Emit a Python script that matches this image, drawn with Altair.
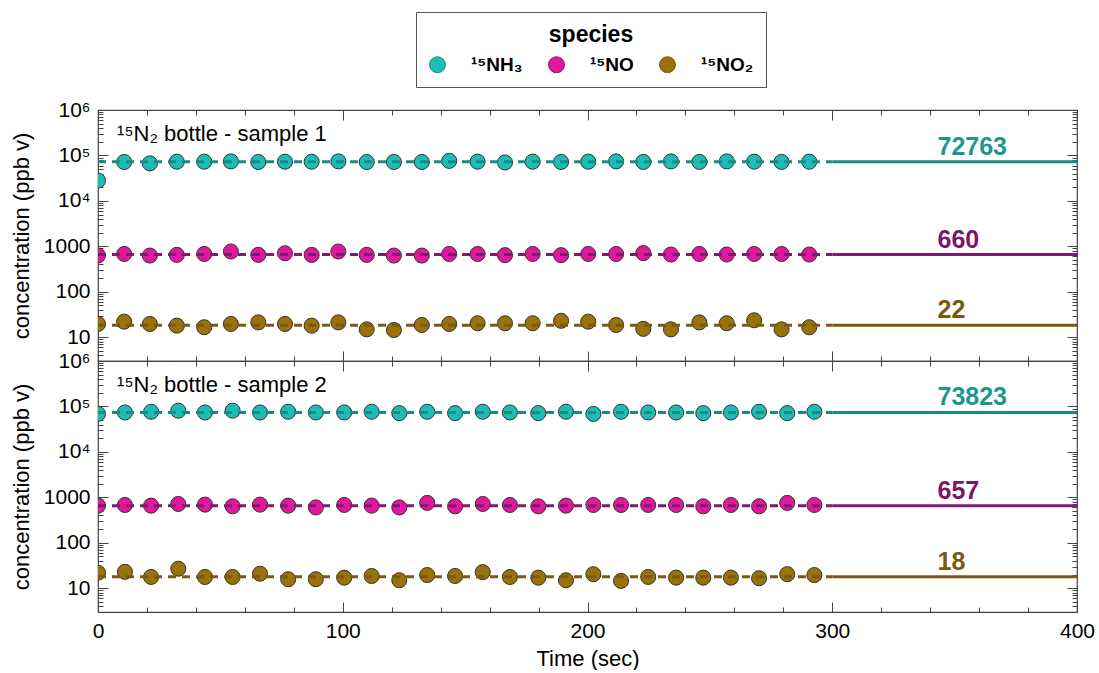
import altair as alt
import pandas as pd

FONT = "Liberation Sans"

species = ["¹⁵NH₃", "¹⁵NO", "¹⁵NO₂"]
fill_colors = ["#1dbcb4", "#e2189c", "#9a720a"]
line_colors = ["#178c86", "#7e1a70", "#7a5a12"]
label_colors = ["#1e968f", "#7a1766", "#7a5912"]

panel_names = ["¹⁵N₂ bottle - sample 1", "¹⁵N₂ bottle - sample 2"]

# sample 1
time_s1 = [0, 10.7, 21.2, 32.2, 43.4, 54.3, 65.5, 76.4, 87.3, 98.2, 109.8, 120.9, 132.3, 143.5,
           155.1, 166.3, 177.6, 189.2, 200.3, 211.7, 222.8, 234.1, 245.7, 256.9, 268.1, 279.3, 290.6]
nh3_s1 = [28000, 71700, 67000, 72800, 72800, 74000, 71700, 72800, 72800, 74000, 71700, 71700, 71700, 76000,
          73000, 70000, 73000, 72000, 73000, 74000, 72000, 74000, 72000, 74000, 73000, 72000, 73000]
no_s1 = [630, 680, 627, 650, 680, 770, 650, 705, 650, 770, 650, 627, 627, 680,
         680, 640, 680, 640, 680, 680, 710, 660, 680, 660, 680, 680, 660]
no2_s1 = [19.6, 22, 19.6, 18, 16.6, 19.6, 21.2, 19.6, 18, 21.2, 14.9, 14.4, 18.6, 19.6,
          20.3, 20.3, 20.3, 23.0, 22, 18.6, 15.3, 14.9, 21.2, 20.3, 23.6, 14.9, 16.6]

# sample 2
time_s2 = [0, 11.0, 21.7, 32.8, 43.7, 55.0, 66.2, 77.7, 89.0, 100.6, 111.8, 123.1, 134.5, 145.9,
           157.2, 168.3, 179.9, 191.2, 202.4, 213.7, 224.8, 236.2, 247.3, 258.6, 270.1, 281.6, 292.7]
nh3_s2 = [68500, 73800, 76400, 80700, 73800, 80700, 73800, 76400, 73800, 73800, 76400, 71300, 76400, 71300,
          76400, 73800, 71300, 76400, 68500, 76400, 73800, 73800, 71300, 73800, 76400, 71300, 76400]
no_s2 = [657, 680, 657, 715, 691, 635, 691, 657, 601, 680, 657, 601, 755, 635,
         715, 680, 635, 657, 680, 680, 680, 680, 635, 680, 635, 755, 680]
no2_s2 = [21.9, 23.0, 17.7, 26.9, 17.7, 17.7, 20.9, 15.8, 15.8, 17.1, 18.6, 15.0, 19.5, 18.6,
          22.6, 17.7, 17.1, 15.0, 20.4, 14.5, 17.7, 17.1, 17.1, 17.1, 16.6, 20.4, 19.5]

level_s1 = [72763, 660, 18.3]
level_s2 = [73823, 657, 18]
label_s1 = ["72763", "660", "22"]
label_s2 = ["73823", "657", "18"]

dash_span = [0, 300]
solid_span = [300, 400]
label_time = 343
panel_title_time = 7.8
panel_title_conc = 3.0e5

x_domain = [0, 400]
y_domain = [3, 1e6]
x_ticks = [0, 20, 40, 60, 80, 100, 120, 140, 160, 180, 200, 220, 240, 260, 280, 300, 320, 340, 360, 380, 400]
y_major = [10, 100, 1000, 10000, 100000, 1000000]
y_major_labels = ["10", "100", "1000", "10⁴", "10⁵", "10⁶"]
y_minor_mult = [2, 3, 4, 5, 6, 7, 8, 9]

y_ticks = sorted(set([m * 10 ** k for k in range(0, 6) for m in y_minor_mult if y_domain[0] <= m * 10 ** k <= y_domain[1]] + y_major))

y_label_expr = ""
for v, lab in zip(y_major, y_major_labels):
    y_label_expr += f"datum.value == {v} ? '{lab}' : "
y_label_expr += "''"
major_list = "[" + ",".join(str(v) for v in y_major) + "]"
y_tick_expr = {"expr": f"indexof({major_list}, datum.value) >= 0 ? -10 : -5"}
x_tick_expr = {"expr": "datum.value % 100 === 0 ? -10 : -5"}

xs = alt.Scale(domain=x_domain, nice=False, zero=False)
ys = alt.Scale(type="log", domain=y_domain, nice=False)

legend = alt.Legend(
    title="species", orient="none", legendX=318, legendY=-98, direction="horizontal", columns=3,
    titleAnchor="middle", titleFont=FONT, titleFontSize=23, titleFontWeight="bold", titleColor="black",
    titlePadding=8, labelFont=FONT, labelFontSize=19, labelFontWeight="bold", labelColor="black",
    labelOffset=24, symbolSize=254, symbolType="circle", symbolStrokeColor="#333", symbolStrokeWidth=1,
    symbolOpacity=1, strokeColor="#555", padding=12, columnPadding=23, fillColor="white",
)


def panel(times, series, levels, labels, name, bottom_labels):
    rows = []
    for sp, vals in zip(species, series):
        for t, v in zip(times, vals):
            rows.append({"time": t, "conc": v, "species": sp})
    df_pts = pd.DataFrame(rows)
    df_dash = pd.DataFrame([{"time": t, "conc": lv, "species": sp}
                            for sp, lv in zip(species, levels) for t in dash_span])
    df_solid = pd.DataFrame([{"time": t, "conc": lv, "species": sp}
                             for sp, lv in zip(species, levels) for t in solid_span])

    if bottom_labels:
        x_bottom = alt.Axis(orient="bottom", values=x_ticks, tickSize=x_tick_expr, domain=False, grid=False,
                            labelExpr="datum.value % 100 === 0 ? datum.label : ''",
                            labelPadding=18, labelFlush=False, labelOverlap=False,
                            title="Time (sec)", titlePadding=2)
    else:
        x_bottom = alt.Axis(orient="bottom", values=x_ticks, tickSize=x_tick_expr, domain=False, grid=False,
                            labels=False, title=None)
    x_top = alt.Axis(orient="top", values=x_ticks, tickSize=x_tick_expr, domain=False, grid=False,
                     labels=False, title=None)
    y_left = alt.Axis(orient="left", values=y_ticks, tickSize=y_tick_expr, domain=False, grid=False,
                      labelExpr=y_label_expr, labelPadding=18, labelFlush=False, labelOverlap=False,
                      title="concentration (ppb v)", titlePadding=10)
    y_right = alt.Axis(orient="right", values=y_ticks, tickSize=y_tick_expr, domain=False, grid=False,
                       labels=False, title=None)

    points = alt.Chart(df_pts).mark_circle(size=227, stroke="#333", strokeWidth=1, opacity=1, clip=True).encode(
        x=alt.X("time:Q", scale=xs, axis=x_bottom),
        y=alt.Y("conc:Q", scale=ys, axis=y_left),
        fill=alt.Fill("species:N", scale=alt.Scale(domain=species, range=fill_colors), legend=legend),
    )
    dash = alt.Chart(df_dash).mark_line(strokeDash=[8, 6], strokeWidth=3).encode(
        x=alt.X("time:Q", scale=xs, axis=x_top),
        y=alt.Y("conc:Q", scale=ys, axis=y_right),
        stroke=alt.Stroke("species:N", scale=alt.Scale(domain=species, range=line_colors), legend=None),
        detail="species:N",
    )
    solid = alt.Chart(df_solid).mark_line(strokeWidth=3).encode(
        x=alt.X("time:Q", scale=xs, axis=None),
        y=alt.Y("conc:Q", scale=ys, axis=None),
        stroke=alt.Stroke("species:N", scale=alt.Scale(domain=species, range=line_colors), legend=None),
        detail="species:N",
    )
    layers = [points, dash, solid]
    for sp, lv, lab, col in zip(species, levels, labels, label_colors):
        df_t = pd.DataFrame({"time": [label_time], "conc": [lv], "txt": [lab]})
        layers.append(alt.Chart(df_t).mark_text(align="left", baseline="alphabetic", dy=-7, fontSize=25,
                                                 fontWeight="bold", font=FONT, color=col).encode(
            x=alt.X("time:Q", scale=xs, axis=None),
            y=alt.Y("conc:Q", scale=ys, axis=None),
            text="txt:N",
        ))
    df_name = pd.DataFrame({"time": [panel_title_time], "conc": [panel_title_conc], "txt": [name]})
    layers.append(alt.Chart(df_name).mark_text(align="left", baseline="middle", fontSize=22, font=FONT,
                                               color="black").encode(
        x=alt.X("time:Q", scale=xs, axis=None),
        y=alt.Y("conc:Q", scale=ys, axis=None),
        text="txt:N",
    ))
    return alt.layer(*layers).resolve_axis(x="independent", y="independent").properties(width=979, height=251)


top = panel(time_s1, [nh3_s1, no_s1, no2_s1], level_s1, label_s1, panel_names[0], False)
bottom = panel(time_s2, [nh3_s2, no_s2, no2_s2], level_s2, label_s2, panel_names[1], True)

chart = alt.vconcat(top, bottom, spacing=0, bounds="flush").properties(
    padding={"left": 9, "top": 11, "right": 3, "bottom": 0}, background="white"
).configure_view(stroke="#444", strokeWidth=1.2).configure_axis(
    labelFont=FONT, labelFontSize=21, labelColor="black", titleFont=FONT, titleFontSize=22,
    titleFontWeight="normal", titleColor="black", tickColor="#444", tickWidth=1,
)

chart.save("out.html", embed_options={"renderer": "svg", "actions": False})
